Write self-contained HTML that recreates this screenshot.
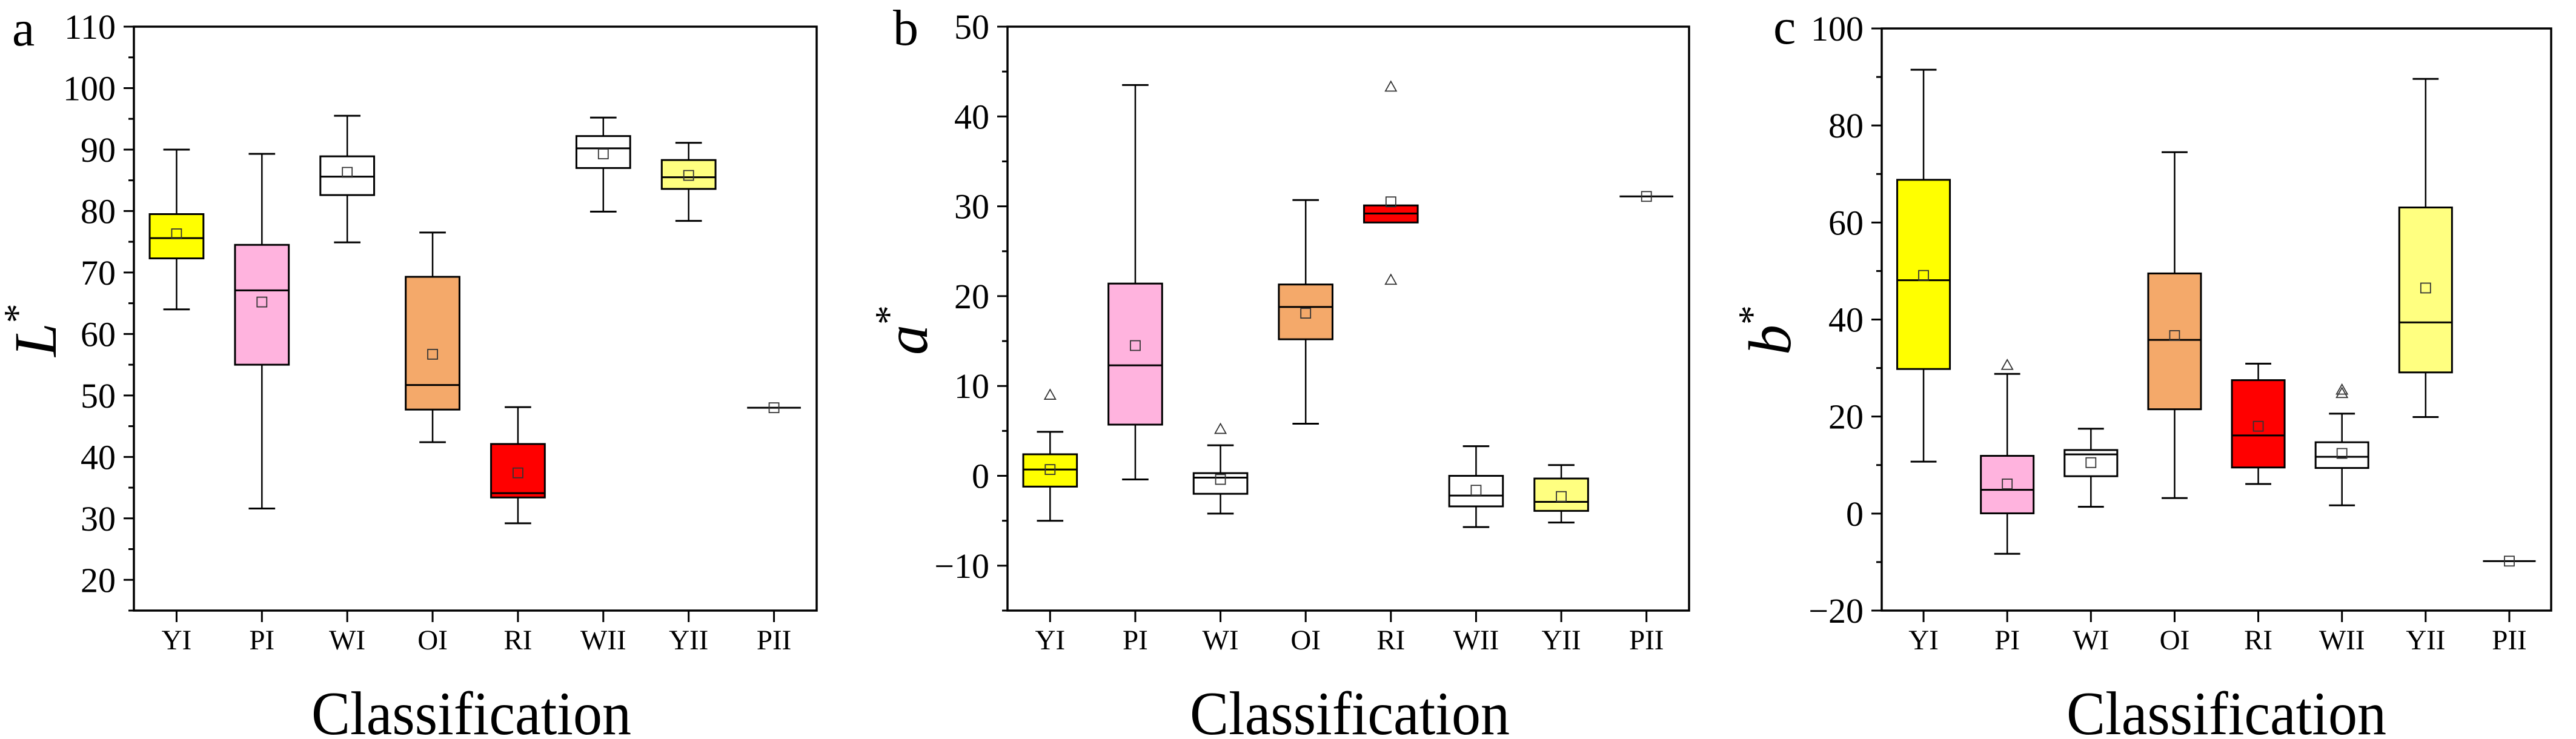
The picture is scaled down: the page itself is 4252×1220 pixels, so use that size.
<!DOCTYPE html>
<html><head><meta charset="utf-8"><style>
html,body{margin:0;padding:0;background:#fff;}
svg{display:block;font-family:"Liberation Serif","Times New Roman",serif;}
svg text{font-family:"Liberation Serif","Times New Roman",serif;fill:#000;}
</style></head><body>
<svg id="chart" width="4252" height="1220" viewBox="0 0 4252 1220" xmlns="http://www.w3.org/2000/svg" font-family="Liberation Serif, serif"></svg>
<script>
const categories = ["YI","PI","WI","OI","RI","WII","YII","PII"];
const fills = ["#ffff00","#ffb3de","#ffffff","#f4a96a","#ff0000","#ffffff","#ffff80","#ffffff"];
// panel a: L*
const aWhiskerHigh = [90.0,89.3,95.5,76.5,48.1,95.2,91.1,48.0];
const aBoxHigh     = [79.5,74.5,88.9,69.3,42.1,92.2,88.3,48.0];
const aMedian      = [75.6,67.1,85.6,51.7,34.1,90.2,85.5,48.0];
const aMean        = [76.3,65.2,86.3,56.7,37.4,89.3,85.8,48.0];
const aBoxLow      = [72.3,55.0,82.6,47.7,33.4,87.0,83.6,48.0];
const aWhiskerLow  = [64.0,31.6,74.9,42.4,29.2,79.9,78.4,48.0];
const aOutliers    = [[],[],[],[],[],[],[],[]];
const aTicks = [20,30,40,50,60,70,80,90,100,110];
// panel b: a*
const bWhiskerHigh = [4.9,43.5,3.4,30.7,30.1,3.3,1.2,31.1];
const bBoxHigh     = [2.4,21.4,0.3,21.3,30.1,0.0,-0.3,31.1];
const bMedian      = [0.7,12.3,-0.2,18.8,29.2,-2.2,-2.9,31.1];
const bMean        = [0.7,14.5,-0.4,18.1,30.5,-1.6,-2.3,31.1];
const bBoxLow      = [-1.2,5.7,-2.0,15.2,28.2,-3.4,-3.9,31.1];
const bWhiskerLow  = [-5.0,-0.4,-4.2,5.8,28.2,-5.7,-5.2,31.1];
const bOutliers    = [[9.0],[],[5.2],[],[43.3,21.8],[],[],[]];
const bTicks = [-10,0,10,20,30,40,50];
// panel c: b*
const cWhiskerHigh = [91.5,28.8,17.5,74.5,30.9,20.6,89.6,-9.8];
const cBoxHigh     = [68.8,11.9,13.1,49.5,27.5,14.7,63.1,-9.8];
const cMedian      = [48.1,4.9,12.2,35.8,16.1,11.7,39.4,-9.8];
const cMean        = [49.1,6.1,10.5,36.7,18.0,12.4,46.5,-9.8];
const cBoxLow      = [29.8,0.05,7.7,21.5,9.5,9.4,29.1,-9.8];
const cWhiskerLow  = [10.7,-8.3,1.4,3.2,6.1,1.7,19.9,-9.8];
const cOutliers    = [[],[30.6],[],[],[],[25.5,24.8],[],[]];
const cTicks = [-20,0,20,40,60,80,100];

const NS="http://www.w3.org/2000/svg";
const svg=document.getElementById('chart');
const FF='"Liberation Serif", "Times New Roman", serif';
function mk(tag,attrs,parent){const e=document.createElementNS(NS,tag);for(const k in attrs)e.setAttribute(k,attrs[k]);if(tag==='text'){e.setAttribute('font-family',FF);e.style.fontFamily=FF;}(parent||svg).appendChild(e);return e;}

const panels=[
 {id:'a',letter:'a',lx:20,ly:75,title:'L',tx:92,left:221,right:1348,top:44,bottom:1008,min:15,max:110,minor:5,ticks:aTicks,
  wh:aWhiskerHigh,bh:aBoxHigh,md:aMedian,mn:aMean,bl:aBoxLow,wl:aWhiskerLow,out:aOutliers,clsX:778},
 {id:'b',letter:'b',lx:1474,ly:74,title:'a',tx:1530,left:1663,right:2788,top:44,bottom:1008,min:-15,max:50,minor:5,ticks:bTicks,
  wh:bWhiskerHigh,bh:bBoxHigh,md:bMedian,mn:bMean,bl:bBoxLow,wl:bWhiskerLow,out:bOutliers,clsX:2228},
 {id:'c',letter:'c',lx:2927,ly:72,title:'b',tx:2955,left:3106,right:4211,top:47,bottom:1008,min:-20,max:100,minor:10,ticks:cTicks,
  wh:cWhiskerHigh,bh:cBoxHigh,md:cMedian,mn:cMean,bl:cBoxLow,wl:cWhiskerLow,out:cOutliers,clsX:3675}
];

panels.forEach(p=>{
  const g=mk('g',{});
  
  
  const y=v=>p.bottom-(v-p.min)/(p.max-p.min)*(p.bottom-p.top);
  const band=(p.right-p.left)/categories.length;
  const x=i=>p.left+band*(i+0.5);
  const bw=band*0.63, cw=band*0.31;
  const fr=mk('rect',{x:p.left,y:p.top,width:p.right-p.left,height:p.bottom-p.top,fill:'none',stroke:'#000','stroke-width':3.5},g);
  
  
  for(let v=Math.ceil(p.min/p.minor)*p.minor; v<=p.max+1e-9; v+=p.minor){
    const major=p.ticks.includes(v);
    const t=mk('line',{x1:p.left-(major?17:9),x2:p.left,y1:y(v),y2:y(v),stroke:'#000','stroke-width':3},g);
    
    
  }
  p.ticks.forEach(v=>{
    const t=mk('text',{x:p.left-30,y:y(v)+20,'font-size':58,'text-anchor':'end'},g);
    t.textContent=(v<0?'\u2212':'')+Math.abs(v);
    
    
  });
  categories.forEach((c,i)=>{
    const t=mk('line',{x1:x(i),x2:x(i),y1:p.bottom,y2:p.bottom+19,stroke:'#000','stroke-width':3},g);
    
    
    const l=mk('text',{x:x(i),y:1072,'font-size':47,'text-anchor':'middle'},g);
    l.textContent=c;
    
    
  });
  categories.forEach((c,i)=>{
    const bg=mk('g',{},g);
    
    
    const cx=x(i);
    if(p.wh[i]>p.bh[i]){
      mk('line',{x1:cx,x2:cx,y1:y(p.wh[i]),y2:y(p.bh[i]),stroke:'#000','stroke-width':2.5},bg);
      mk('line',{x1:cx-cw/2,x2:cx+cw/2,y1:y(p.wh[i]),y2:y(p.wh[i]),stroke:'#000','stroke-width':3},bg);
    }
    if(p.wl[i]<p.bl[i]){
      mk('line',{x1:cx,x2:cx,y1:y(p.bl[i]),y2:y(p.wl[i]),stroke:'#000','stroke-width':2.5},bg);
      mk('line',{x1:cx-cw/2,x2:cx+cw/2,y1:y(p.wl[i]),y2:y(p.wl[i]),stroke:'#000','stroke-width':3},bg);
    }
    const h=y(p.bl[i])-y(p.bh[i]);
    if(h>0.5){
      mk('rect',{x:cx-bw/2,y:y(p.bh[i]),width:bw,height:h,fill:fills[i],stroke:'#000','stroke-width':3},bg);
    }
    mk('line',{x1:cx-bw/2,x2:cx+bw/2,y1:y(p.md[i]),y2:y(p.md[i]),stroke:'#000','stroke-width':3},bg);
    const m=mk('rect',{x:cx-8,y:y(p.mn[i])-8,width:16,height:16,fill:'none',stroke:'#333','stroke-width':1.8},bg);
    
    
    p.out[i].forEach(o=>{
      const oy=y(o);
      const tr=mk('polygon',{points:`${cx},${oy-9} ${cx-9},${oy+7} ${cx+9},${oy+7}`,fill:'none',stroke:'#333','stroke-width':1.8},bg);
      
      
    });
  });
  const lt=mk('text',{x:p.lx,y:p.ly,'font-size':84},g);
  lt.textContent=p.letter;
  
  
  const yt=mk('text',{transform:`translate(${p.tx},545) rotate(-90)`,'font-size':100,'text-anchor':'middle'},g);
  
  
  const ti=mk('tspan',{'font-style':'italic'},yt); ti.textContent=p.title;
  const ts=mk('tspan',{'font-size':64,dy:-42},yt); ts.textContent='*';
  const xt=mk('text',{x:p.clsX,y:1212,'font-size':102,'text-anchor':'middle',textLength:528,lengthAdjust:'spacingAndGlyphs'},g);
  xt.textContent='Classification';
  
  
});
</script>
</body></html>
